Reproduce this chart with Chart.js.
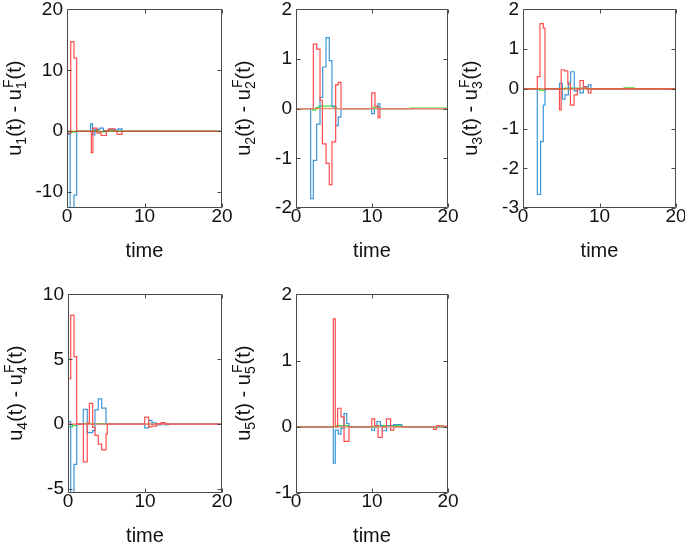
<!DOCTYPE html>
<html lang="en">
<head>
<meta charset="UTF-8">
<title>u(t) - uF(t)</title>
<script src="https://cdn.jsdelivr.net/npm/chart.js"></script>
<style>
  html, body { margin: 0; padding: 0; background: #fff; overflow: hidden; }
  #wrap { position: relative; width: 685px; height: 543px; }
  canvas { position: absolute; }
</style>
</head>
<body>
<div id="wrap">
  <canvas id="c1"></canvas>
  <canvas id="c2"></canvas>
  <canvas id="c3"></canvas>
  <canvas id="c4"></canvas>
  <canvas id="c5"></canvas>
</div>
<script>
// each value holds from its time until the next time (stairs)
const timeTicks = [0, 10, 20];
const zeroT = [0, 20];
const zeroV = [0, 0];

// u1
const u1Ticks = [-10, 0, 10, 20];
const u1RedT = [0, 0.48, 0.9, 1.25, 3.14, 3.35, 3.87, 4.4, 5.07, 5.4, 6.2, 6.45, 7.1, 20];
const u1RedV = [-0.3, 14.7, 12.0, 0, -3.5, 0.5, -0.3, -0.7, 0.1, 0.4, 0, -0.5, 0, 0];
const u1BlueT = [0, 0.4, 0.9, 1.25, 3.05, 3.3, 3.6, 4.2, 4.7, 5.3, 6.0, 6.6, 7.1, 20];
const u1BlueV = [-0.5, -14, -10.5, 0, 1.2, -0.6, 0.3, 0.5, 0.1, 0.3, 0.2, 0.4, 0, 0];
const u1GreenT = [0, 0.5, 1.1, 3.3, 4.0, 5.0, 6.0, 7.0, 20];
const u1GreenV = [-0.3, -0.15, 0, 0.1, -0.1, 0.1, 0.05, 0, 0];

// u2
const u2Ticks = [-2, -1, 0, 1, 2];
const u2RedT = [0, 2.28, 2.72, 3.16, 3.47, 3.95, 4.38, 4.73, 5.22, 5.56, 5.92, 9.96, 10.4, 10.8, 11.05, 20];
const u2RedV = [0, 1.3, 1.2, 0.17, -0.71, -1.1, -1.53, -0.67, 0.48, 0.53, 0, 0.32, 0.05, -0.18, 0, 0];
const u2BlueT = [0, 1.93, 2.28, 2.72, 3.16, 3.51, 3.95, 4.38, 4.73, 5.22, 5.56, 5.92, 9.96, 10.3, 10.75, 11.05, 20];
const u2BlueV = [0, -1.81, -1.04, -0.31, 0.23, 0.84, 1.43, 0.97, 0.05, -0.34, -0.17, 0, -0.1, 0, 0.1, 0, 0];
const u2GreenT = [0, 2.2, 2.6, 3.0, 4.9, 5.3, 10.2, 11.0, 15.0, 20];
const u2GreenV = [0, -0.03, 0.02, 0.05, 0.03, 0, 0.03, 0, 0.01, 0];

// u3
const u3Ticks = [-3, -2, -1, 0, 1, 2];
const u3RedT = [0, 1.87, 2.22, 2.65, 2.87, 4.77, 4.99, 5.42, 5.86, 6.2, 6.68, 7.1, 7.45, 7.89, 8.32, 8.54, 8.89, 20];
const u3RedV = [0, 0.31, 1.64, 1.53, 0, -0.53, 0.48, 0.45, 0.12, -0.41, -0.15, 0, 0.21, 0.05, 0, -0.1, 0, 0];
const u3BlueT = [0, 1.87, 2.3, 2.65, 2.87, 4.77, 5.14, 5.49, 5.93, 6.23, 6.7, 7.1, 7.45, 7.89, 8.54, 8.89, 20];
const u3BlueV = [0, -2.66, -1.33, -0.41, 0, 0.14, -0.26, -0.15, 0.15, 0.43, -0.05, 0, -0.1, 0.05, 0.1, 0, 0];
const u3GreenT = [0, 2.2, 2.9, 5.5, 8.5, 13.2, 14.5, 16.0, 17.0, 20];
const u3GreenV = [0, -0.04, 0, 0.02, 0, 0.025, 0, -0.01, 0, 0];

// u4
const u4Ticks = [-5, 0, 5, 10];
const u4RedT = [0, 0.05, 0.35, 0.78, 1.13, 1.99, 2.5, 2.77, 3.2, 3.5, 3.93, 4.37, 4.94, 5.1, 9.96, 10.48, 10.9, 11.5, 12.1, 12.6, 13.05, 20];
const u4RedV = [0, 3.5, 8.4, 5.2, 0, -2.9, 0.1, 1.6, -0.25, -0.86, -1.54, -1.97, -0.77, 0, 0.55, -0.2, -0.15, 0.05, 0.12, 0.05, 0, 0];
const u4BlueT = [0, 0.35, 0.78, 1.13, 1.99, 2.5, 3.2, 3.5, 3.93, 4.37, 4.94, 9.96, 10.48, 10.9, 11.5, 12.1, 12.6, 13.05, 20];
const u4BlueV = [0.2, -5.3, -3.1, 0, 1.15, -0.65, -0.5, 1.1, 1.95, 1.24, 0, -0.28, 0.3, 0.1, -0.05, 0.08, -0.05, 0, 0];
const u4GreenT = [0, 0.6, 1.2, 2.0, 5.0, 20];
const u4GreenV = [-0.2, -0.1, 0, 0.05, 0, 0];

// u5
const u5Ticks = [-1, 0, 1, 2];
const u5RedT = [0, 4.91, 5.17, 5.48, 5.92, 6.32, 6.97, 9.96, 10.35, 10.8, 11.35, 11.9, 12.45, 12.85, 18.1, 18.5, 18.9, 19.8, 20];
const u5RedV = [0, 1.63, 0, 0.28, 0.15, -0.22, 0, 0.12, 0.02, -0.16, 0, 0.12, -0.05, 0, -0.04, 0.02, 0.01, 0, 0];
const u5BlueT = [0, 4.91, 5.17, 5.57, 5.92, 6.32, 6.67, 6.97, 9.96, 10.35, 10.65, 11.1, 11.35, 11.9, 12.85, 13.9, 20];
const u5BlueV = [0, -0.55, -0.05, -0.11, -0.02, 0.2, 0.05, 0, -0.05, 0, 0.08, 0.02, -0.06, 0.02, 0.035, 0, 0];
const u5GreenT = [0, 5.2, 7.0, 10.3, 14.0, 18.6, 19.4, 20];
const u5GreenV = [0, 0.02, 0, 0.02, 0, 0.015, 0, 0];

const FONT = '"Liberation Sans", Arial, Helvetica, sans-serif';
const RED = '#ff4d4d', BLUE = '#3c96d8', GREEN = '#40e040';

Chart.defaults.font.family = FONT;
Chart.defaults.color = '#111';

function pts(T, V) {
    return T.map((t, i) => ({ x: t, y: V[i] }));
}

function line(T, V, color) {
    return { data: pts(T, V), borderColor: color, borderWidth: 1.2, pointRadius: 0, stepped: true, fill: false };
}

// box round the plot with inward ticks on all four sides
const framePlugin = {
    id: 'frame',
    afterDatasetsDraw(chart) {
        const { ctx, chartArea: a, scales: { x, y } } = chart;
        const L = Math.round(a.left) + 0.5, R = Math.round(a.right) - 0.5;
        const T = Math.round(a.top) + 0.5, B = Math.round(a.bottom) - 0.5;
        ctx.save();
        ctx.strokeStyle = '#4a4a4a';
        ctx.lineWidth = 1;
        ctx.beginPath();
        ctx.rect(L, T, R - L, B - T);
        x.ticks.forEach(t => {
            const px = Math.round(x.getPixelForValue(t.value)) + 0.5;
            ctx.moveTo(px, B); ctx.lineTo(px, B - 4);
            ctx.moveTo(px, T); ctx.lineTo(px, T + 4);
        });
        y.ticks.forEach(t => {
            const py = Math.round(y.getPixelForValue(t.value)) + 0.5;
            ctx.moveTo(L, py); ctx.lineTo(L + 4, py);
            ctx.moveTo(R, py); ctx.lineTo(R - 4, py);
        });
        ctx.stroke();
        ctx.restore();
    }
};

// y title  u_k(t) - u_k^F(t)
const ytitlePlugin = {
    id: 'ytitle',
    afterDraw(chart, args, opts) {
        const { ctx, chartArea: a } = chart;
        const big = '20px ' + FONT, small = '14px ' + FONT;
        const parts = [
            { t: 'u', f: big },
            { t: opts.k, f: small, dy: 5 },
            { t: '(t) - u', f: big },
            { t: opts.k, f: small, dy: 5, sup: 'F' },
            { t: '(t)', f: big }
        ];
        let total = 0;
        parts.forEach(p => {
            ctx.font = p.f;
            p.w = ctx.measureText(p.t).width;
            if (p.sup) p.w = Math.max(p.w, ctx.measureText(p.sup).width);
            total += p.w;
        });
        ctx.save();
        ctx.translate(a.left - 46, (a.top + a.bottom) / 2);
        ctx.rotate(-Math.PI / 2);
        ctx.fillStyle = '#111';
        ctx.textBaseline = 'alphabetic';
        let cx = -total / 2;
        parts.forEach(p => {
            ctx.font = p.f;
            ctx.fillText(p.t, cx, p.dy || 0);
            if (p.sup) ctx.fillText(p.sup, cx + 1, -8);
            cx += p.w + (p.sup ? 1 : 0);
        });
        ctx.restore();
    }
};

const plots = [
    { id: 'c1', k: '1', left: 67, top: 6, w: 155, min: -12.6, max: 20, ticks: u1Ticks, zero: '#b4531c',
      red: [u1RedT, u1RedV], blue: [u1BlueT, u1BlueV], green: [u1GreenT, u1GreenV] },
    { id: 'c2', k: '2', left: 296, top: 6, w: 152, min: -2, max: 2, ticks: u2Ticks, zero: '#e9866a',
      red: [u2RedT, u2RedV], blue: [u2BlueT, u2BlueV], green: [u2GreenT, u2GreenV] },
    { id: 'c3', k: '3', left: 523, top: 6, w: 153, min: -3, max: 2, ticks: u3Ticks, zero: '#e4603a',
      red: [u3RedT, u3RedV], blue: [u3BlueT, u3BlueV], green: [u3GreenT, u3GreenV] },
    { id: 'c4', k: '4', left: 68, top: 291, w: 154, min: -5.3, max: 10, ticks: u4Ticks, zero: '#ff6a6a',
      red: [u4RedT, u4RedV], blue: [u4BlueT, u4BlueV], green: [u4GreenT, u4GreenV] },
    { id: 'c5', k: '5', left: 296, top: 291, w: 152, min: -1, max: 2, ticks: u5Ticks, zero: '#c98a5e',
      red: [u5RedT, u5RedV], blue: [u5BlueT, u5BlueV], green: [u5GreenT, u5GreenV] }
];

const YW = 67, PADT = 12, PADR = 14, PH = 202, XH = 59;

plots.forEach(p => {
    const cv = document.getElementById(p.id);
    cv.width = YW + p.w + PADR;
    cv.height = PADT + PH + XH;
    cv.style.left = (p.left - YW) + 'px';
    cv.style.top = (p.top - PADT) + 'px';

    new Chart(cv.getContext('2d'), {
        type: 'line',
        data: {
            datasets: [
                line(zeroT, zeroV, p.zero),
                line(p.red[0], p.red[1], RED),
                line(p.blue[0], p.blue[1], BLUE),
                line(p.green[0], p.green[1], GREEN)
            ]
        },
        options: {
            responsive: false,
            animation: false,
            events: [],
            layout: { padding: { left: 0, top: PADT, right: PADR, bottom: 0 } },
            plugins: { legend: { display: false }, tooltip: { enabled: false }, ytitle: { k: p.k } },
            scales: {
                x: {
                    type: 'linear', min: 0, max: 20,
                    afterBuildTicks: s => { s.ticks = timeTicks.map(v => ({ value: v })); },
                    afterFit: s => { s.height = XH; },
                    grid: { display: false, drawTicks: false },
                    border: { display: false },
                    ticks: { font: { size: 19 }, padding: -3, maxRotation: 0, color: '#111' },
                    title: { display: true, text: 'time', font: { size: 20 }, color: '#111' }
                },
                y: {
                    type: 'linear', min: p.min, max: p.max,
                    afterBuildTicks: s => { s.ticks = p.ticks.map(v => ({ value: v })); },
                    afterFit: s => { s.width = YW; },
                    grid: { display: false, drawTicks: false },
                    border: { display: false },
                    ticks: { font: { size: 19 }, padding: 4, color: '#111' }
                }
            }
        },
        plugins: [framePlugin, ytitlePlugin]
    });
});
</script>
</body>
</html>
